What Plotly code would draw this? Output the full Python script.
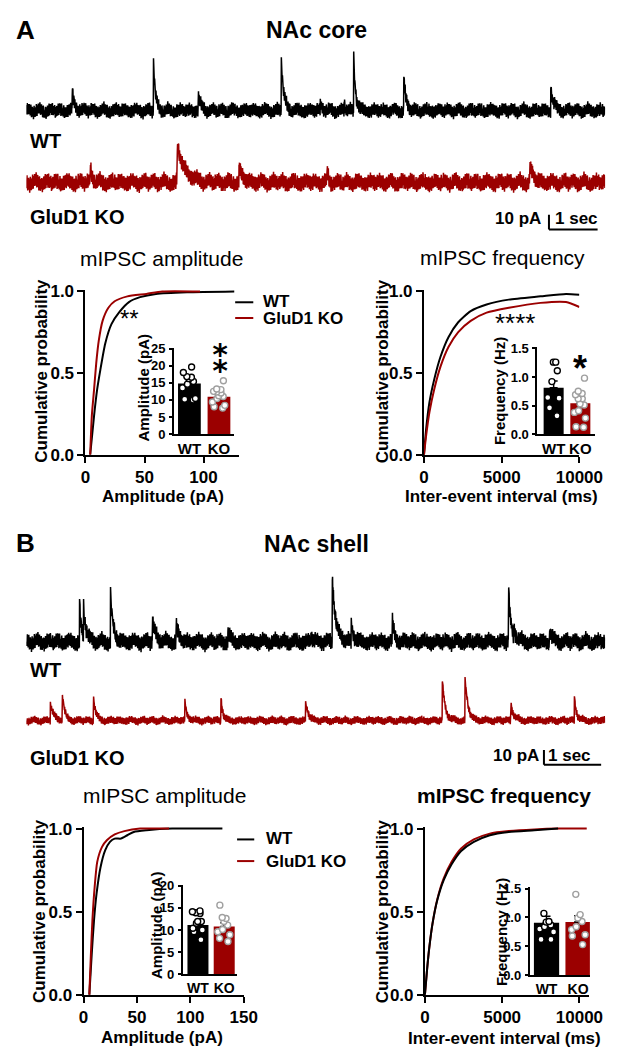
import numpy as np
import plotly.graph_objects as go

W, H = 624, 1050
FONT = "Liberation Sans, Arial, sans-serif"
BLACK = "#000000"
RED = "#9b0000"
GRAY = "#a0a0a0"

# ------------------------------------------------------------------ data
# Example current traces: event times (s), amplitudes (pA), decay constants (s)
A_WT_T = [0.94, 2.61, 3.53, 5.24, 6.04, 6.53, 6.73, 7.76, 10.78]
A_WT_AMP = [13, 37, 10, 36, 5, 4, 37, 25, 15]
A_WT_TAU = [0.05, 0.04, 0.06, 0.05, 0.05, 0.04, 0.04, 0.04, 0.06]
A_KO_T = [1.31, 3.10, 4.37, 6.18, 10.35]
A_KO_AMP = [11, 25, 11, 9, 12]
A_KO_TAU = [0.05, 0.16, 0.07, 0.03, 0.07]
A_DUR = 11.9

B_WT_T = [0.93, 1.00, 1.47, 2.20, 2.62, 3.52, 4.97, 5.35, 5.68, 6.40, 8.43, 8.52, 9.15]
B_WT_AMP = [26, 21, 37, 15, 13, 6, 4, 44, 14, 14, 36, 8, 7]
B_WT_TAU = [0.03, 0.05, 0.04, 0.06, 0.04, 0.05, 0.05, 0.06, 0.04, 0.04, 0.04, 0.05, 0.05]
B_KO_T = [0.42, 0.63, 1.17, 2.77, 3.40, 4.88, 7.27, 7.67, 8.47, 9.58]
B_KO_AMP = [11.5, 18, 17.5, 13.5, 19, 13, 29, 29.5, 12, 16]
B_KO_TAU = [0.06, 0.04, 0.04, 0.04, 0.03, 0.05, 0.05, 0.05, 0.05, 0.04]
B_DUR = 10.12

# baseline noise texture (normalised)
NOISE_1 = [0.3, -0.8, 0.6, -0.2, 0.9, -0.5, 0.1, -0.9, 0.7, -0.3, 0.5, -0.7, 0.2, 0.8,
           -0.4, -0.1, 0.6, -0.8, 0.4, -0.6, 1.0, -0.2, 0.3, -0.9, 0.5, 0.0, -0.5, 0.8,
           -0.7, 0.2, -0.3, 0.7, -1.0, 0.4, -0.4, 0.9, -0.6, 0.1, 0.6, -0.8, 0.2]
NOISE_2 = [0.5, 0.7, 0.4, 0.1, -0.3, -0.6, -0.8, -0.5, -0.2, 0.2, 0.6, 0.9, 0.6, 0.3,
           -0.1, -0.4, -0.7, -0.9, -0.6, -0.2, 0.1, 0.4, 0.8, 0.5, 0.2, -0.2, -0.5, -0.3, 0.1]

SCALE_PA = 10
SCALE_S = 1

# Cumulative distributions: NAc core amplitude (pA)
A_AMP_P = [0, 0.24, 0.40, 0.52, 0.68, 0.80, 0.875, 0.935, 0.965, 0.985, 0.995, 1.0]
A_AMP_WT = [4.0, 7.3, 9.9, 12.6, 16.7, 22.0, 28.8, 36.8, 46.2, 59.7, 86, 126]
A_AMP_KO_P = [0, 0.24, 0.40, 0.56, 0.70, 0.82, 0.90, 0.94, 0.97, 0.985, 1.0, 1.0]
A_AMP_KO = [4.0, 5.4, 7.3, 9.1, 11.3, 14.5, 19.4, 24.7, 35.5, 51.6, 65, 97]
# NAc core inter-event interval (ms)
A_IEI_X = [0, 143, 350, 656, 1063, 1575, 2190, 3006, 4030, 5460, 7500, 9140, 10000]
A_IEI_WT = [0, 0.16, 0.32, 0.46, 0.60, 0.72, 0.81, 0.88, 0.92, 0.95, 0.97, 0.985, 0.98]
A_IEI_KO = [0, 0.12, 0.26, 0.40, 0.54, 0.66, 0.75, 0.82, 0.87, 0.90, 0.93, 0.935, 0.905]
# NAc shell amplitude (pA)
B_AMP_WT_P = [0, 0.25, 0.45, 0.61, 0.765, 0.87, 0.92, 0.94, 0.94, 0.96, 0.98, 0.99, 1.0, 1.0]
B_AMP_WT = [5.4, 7.7, 9.8, 12.2, 15.8, 20.3, 24.7, 29.2, 35.1, 41, 47, 59, 83, 130]
B_AMP_KO_P = [0, 0.25, 0.45, 0.65, 0.80, 0.89, 0.93, 0.965, 0.985, 1.0, 1.0]
B_AMP_KO = [5.4, 6.9, 8.3, 10.4, 12.8, 17.3, 21.8, 29.2, 38.2, 53, 80]
# NAc shell inter-event interval (ms)
B_IEI_WT_X = [0, 142, 290, 494, 802, 1216, 1728, 2345, 3167, 4200, 5432, 7080, 8620]
B_IEI_WT = [0, 0.155, 0.29, 0.43, 0.57, 0.69, 0.785, 0.865, 0.92, 0.96, 0.98, 0.99, 1.0]
B_IEI_KO_X = [0, 142, 290, 494, 802, 1216, 1728, 2345, 3167, 4200, 5432, 7080, 8620, 10475]
B_IEI_KO = [0, 0.155, 0.29, 0.43, 0.575, 0.70, 0.80, 0.88, 0.935, 0.97, 0.985, 0.995, 1.0, 1.0]

# Inset bar graphs: group means, SEM and individual cells
GROUPS = ["WT", "KO"]
A_AMP_MEAN = [14.8, 10.9]
A_AMP_SEM = [1.1, 0.7]
A_AMP_WT_CELLS = [19.6, 18.0, 16.6, 16.2, 16.8, 15.4, 14.6, 13.5, 10.2, 10.0, 10.4]
A_AMP_KO_CELLS = [15.6, 13.0, 13.2, 12.5, 12.3, 11.0, 11.2, 10.4, 9.4, 8.4, 7.6, 8.0, 12.0]
A_FRQ_MEAN = [0.81, 0.54]
A_FRQ_SEM = [0.12, 0.07]
A_FRQ_WT_CELLS = [1.26, 1.26, 1.11, 0.92, 0.63, 0.64, 0.46, 0.32]
A_FRQ_KO_CELLS = [0.98, 0.75, 0.69, 0.71, 0.62, 0.62, 0.53, 0.51, 0.41, 0.38, 0.28, 0.12, 0.13]
B_AMP_MEAN = [11.1, 10.8]
B_AMP_SEM = [0.6, 0.8]
B_AMP_WT_CELLS = [13.7, 13.9, 14.1, 14.3, 11.9, 11.9, 11.5, 10.4, 10.0, 9.6, 7.8]
B_AMP_KO_CELLS = [15.6, 12.6, 12.8, 11.9, 11.1, 8.9, 10.1, 9.6, 8.1, 7.4]
B_FRQ_MEAN = [0.91, 0.92]
B_FRQ_SEM = [0.11, 0.11]
B_FRQ_WT_CELLS = [1.07, 0.93, 0.92, 0.87, 0.84, 0.80, 0.75, 0.62, 0.62]
B_FRQ_KO_CELLS = [1.40, 1.05, 0.99, 0.93, 0.84, 0.79, 0.70, 0.68, 0.53]


# ------------------------------------------------------------------ helpers
def X(p):
    return p / W


def Y(p):
    return 1 - p / H


def make_trace(times, amps, taus, dur, noise_amp, phase, n=2600):
    t = np.linspace(0, dur, n)
    idx = np.arange(n) + phase
    n1 = np.array(NOISE_1)[idx % len(NOISE_1)]
    n2 = np.array(NOISE_2)[(idx // 5) % len(NOISE_2)]
    y = noise_amp * (0.75 * n1 + 0.3 * n2)
    for t0, a, tau in zip(times, amps, taus):
        m = t >= t0
        y[m] += a * np.exp(-(t[m] - t0) / tau)
    return t, y


fig = go.Figure()
layout = {}
annotations = []
shapes = []


def axes(i, xl, xr, yt, yb, xrange, yrange):
    layout[f"xaxis{i}"] = dict(domain=[X(xl), X(xr)], range=xrange, anchor=f"y{i}",
                               visible=False, fixedrange=True)
    layout[f"yaxis{i}"] = dict(domain=[Y(yb), Y(yt)], range=yrange, anchor=f"x{i}",
                               visible=False, fixedrange=True)


def style_axis(ax, tickvals, ticktext, size, ticklen=6, showline=True):
    ax.update(visible=True, showline=showline, linecolor=BLACK, linewidth=2,
              ticks="outside" if ticklen else "", ticklen=ticklen, tickwidth=2,
              tickcolor=BLACK, tickvals=tickvals, ticktext=ticktext, tickangle=0,
              tickfont=dict(family=FONT, size=size, color=BLACK, weight=700),
              showgrid=False, zeroline=False)


def txt(s, x, y, size, bold=True, xa="center", ya="middle", angle=0, color=BLACK,
        family=FONT):
    annotations.append(dict(text=s, x=X(x), y=Y(y), xref="paper", yref="paper",
                            showarrow=False, xanchor=xa, yanchor=ya, textangle=angle,
                            font=dict(family=family, size=size, color=color,
                                      weight=700 if bold else 400)))


# ------------------------------------------------------------------ raw traces
# axis 1: A WT, axis 2: A KO, axis 3: B WT, axis 4: B KO
axes(1, 14, 621, 25, 115, [0, A_DUR], [-12, 48])
axes(2, 14, 621, 115, 225, [0, A_DUR], [-36.7, 36.7])
axes(3, 14, 621, 550, 665, [0, B_DUR], [-18.7, 58])
axes(4, 14, 621, 660, 770, [0, B_DUR], [-35.3, 38])

for i, (tt, aa, tau, dur, na, ph, col) in enumerate([
        (A_WT_T, A_WT_AMP, A_WT_TAU, A_DUR, 6.0, 0, BLACK),
        (A_KO_T, A_KO_AMP, A_KO_TAU, A_DUR, 7.2, 17, RED),
        (B_WT_T, B_WT_AMP, B_WT_TAU, B_DUR, 7.0, 9, BLACK),
        (B_KO_T, B_KO_AMP, B_KO_TAU, B_DUR, 3.4, 23, RED)], start=1):
    t, y = make_trace(tt, aa, tau, dur, na, ph)
    fig.add_trace(go.Scatter(x=t, y=y, mode="lines", line=dict(color=col, width=1.5),
                             xaxis=f"x{i}", yaxis=f"y{i}", showlegend=False,
                             hoverinfo="skip"))

# scale bars (in data units of the KO trace axes)
for ax, x0, y0 in [(2, 10.745, -32), (4, 9.05, -30)]:
    shapes.append(dict(type="line", xref=f"x{ax}", yref=f"y{ax}", x0=x0, x1=x0,
                       y0=y0, y1=y0 + SCALE_PA, line=dict(color=BLACK, width=2)))
    shapes.append(dict(type="line", xref=f"x{ax}", yref=f"y{ax}", x0=x0, x1=x0 + SCALE_S,
                       y0=y0, y1=y0, line=dict(color=BLACK, width=2)))

# ------------------------------------------------------------------ CDF panels
cdf_specs = [
    # axis, xl, xr, y0px, y1px, xrange, xticks
    (5, 76, 237, 447, 281, [0, 130], [0, 50, 100]),
    (7, 431, 594, 447, 281, [0, 10000], [0, 5000, 10000]),
    (9, 74, 242, 996, 827, [0, 150], [0, 50, 100, 150]),
    (11, 432, 604, 996, 827, [0, 10617], [0, 5000, 10000]),
]
for ax, xl, xr, yb, y1, xr_, xt in cdf_specs:
    top = yb - 1.01 * (yb - y1)
    axes(ax, xl, xr, top, yb, xr_, [0, 1.01])
    style_axis(layout[f"xaxis{ax}"], xt, [str(v) for v in xt], 17)
    style_axis(layout[f"yaxis{ax}"], [0, 0.5, 1.0], ["0.0", "0.5", "1.0"], 17)

cdf_lines = [
    (5, A_AMP_WT, A_AMP_P, BLACK), (5, A_AMP_KO, A_AMP_KO_P, RED),
    (7, A_IEI_X, A_IEI_WT, BLACK), (7, A_IEI_X, A_IEI_KO, RED),
    (9, B_AMP_WT, B_AMP_WT_P, BLACK), (9, B_AMP_KO, B_AMP_KO_P, RED),
    (11, B_IEI_KO_X, B_IEI_KO, RED), (11, B_IEI_WT_X, B_IEI_WT, BLACK),
]
for ax, xs, ys, col in cdf_lines:
    fig.add_trace(go.Scatter(x=xs, y=ys, mode="lines",
                             line=dict(color=col, width=2, shape="spline", smoothing=0.6),
                             xaxis=f"x{ax}", yaxis=f"y{ax}", showlegend=False,
                             hoverinfo="skip"))

# ------------------------------------------------------------------ insets
inset_specs = [
    # axis, xl, xr, ytop, ybottom, xrange, yrange, yticks, labels, mean, sem, wt, ko, width, xfont
    (6, 169, 232, 338, 426, [-0.516, 1.516], [0, 25.3], [0, 5, 10, 15, 20, 25],
     ["0", "5", "10", "15", "20", "25"], A_AMP_MEAN, A_AMP_SEM, A_AMP_WT_CELLS, A_AMP_KO_CELLS, 0.77, 15),
    (8, 550, 610, 337.8, 426, [-0.607, 1.536], [0, 1.52], [0, 0.5, 1.0, 1.5],
     ["0.0", "0.5", "1.0", "1.5"], A_FRQ_MEAN, A_FRQ_SEM, A_FRQ_WT_CELLS, A_FRQ_KO_CELLS, 0.75, 15),
    (10, 178, 235, 884.1, 975, [-0.58, 1.49], [0, 20.2], [0, 5, 10, 15, 20],
     ["0", "5", "10", "15", "20"], B_AMP_MEAN, B_AMP_SEM, B_AMP_WT_CELLS, B_AMP_KO_CELLS, 0.8, 14),
    (12, 542, 605, 886.8, 976, [-0.53, 1.375], [0, 1.52], [0, 0.5, 1.0, 1.5],
     ["0.0", "0.5", "1.0", "1.5"], B_FRQ_MEAN, B_FRQ_SEM, B_FRQ_WT_CELLS, B_FRQ_KO_CELLS, 0.8, 14),
]
for ax, xl, xr, yt, yb, xrg, yrg, ytv, ytt, mean, sem, wt, ko, bw, xf in inset_specs:
    axes(ax, xl, xr, yt, yb, xrg, yrg)
    style_axis(layout[f"xaxis{ax}"], [0, 1], GROUPS, xf, ticklen=0)
    layout[f"xaxis{ax}"]["type"] = "linear"
    style_axis(layout[f"yaxis{ax}"], ytv, ytt, 13, ticklen=3)
    layout[f"yaxis{ax}"]["ticklabelstandoff"] = 1
    fig.add_trace(go.Bar(x=[0, 1], y=mean, width=bw, marker=dict(color=[BLACK, RED],
                         line=dict(color=BLACK, width=0)),
                         error_y=dict(type="data", array=sem, arrayminus=[0, 0],
                                      symmetric=False, color=BLACK, thickness=1.5, width=4),
                         xaxis=f"x{ax}", yaxis=f"y{ax}", showlegend=False, hoverinfo="skip"))
    for x0, vals, edge in [(0, wt, BLACK), (1, ko, GRAY)]:
        fig.add_trace(go.Box(y=vals, x0=x0, boxpoints="all", jitter=0.85, pointpos=0,
                             width=bw * 0.85, fillcolor="rgba(0,0,0,0)",
                             line=dict(color="rgba(0,0,0,0)", width=0),
                             marker=dict(symbol="circle", size=6, color="white",
                                         line=dict(color=edge, width=1.4)),
                             xaxis=f"x{ax}", yaxis=f"y{ax}", showlegend=False,
                             hoverinfo="skip"))

# ------------------------------------------------------------------ text
txt("A", 1, 15, 26, xa="left")
txt("NAc core", 318, 15, 23)
txt("WT", 16, 128, 20, xa="left")
txt("GluD1 KO", 16, 205, 20, xa="left")
txt("10 pA", 556, 207, 17, xa="right")
txt("1 sec", 566, 207, 17, xa="left")

txt("mIPSC amplitude", 156, 247, 21, bold=False)
txt("mIPSC frequency", 513, 246, 21, bold=False)
txt("Cumulative probability", 30, 362, 17, angle=-90)
txt("Cumulative probability", 387, 362, 17, angle=-90)
txt("Amplitude (pA)", 157, 489, 17)
txt("Inter-event interval (ms)", 512, 489, 17)
txt("Amplitude (pA)", 137, 379, 15, angle=-90)
txt("Frequency (Hz)", 511, 382, 15, angle=-90)
txt("**", 122, 308, 24, bold=False)
txt("****", 526, 313, 26, bold=False)
# two asterisks stacked vertically (single glyph U+2051)
txt("\u2051", 218, 350, 37, bold=True, family="DejaVu Sans, Noto Sans, sans-serif")
txt("*", 595, 359, 36, bold=True)
txt("WT", 260, 291, 17, xa="left")
txt("GluD1 KO", 260, 308, 17, xa="left")

txt("B", 1, 537, 26, xa="left")
txt("NAc shell", 318, 538, 23)
txt("WT", 16, 666, 20, xa="left")
txt("GluD1 KO", 16, 755, 20, xa="left")
txt("10 pA", 554, 753, 17, xa="right")
txt("1 sec", 559, 753, 17, xa="left")

txt("mIPSC amplitude", 159, 793, 21, bold=False)
txt("mIPSC frequency", 515, 793, 21)
txt("Cumulative probability", 28, 911, 17, angle=-90)
txt("Cumulative probability", 387, 911, 17, angle=-90)
txt("Amplitude (pA)", 156, 1039, 17)
txt("Inter-event interval (ms)", 515, 1040, 17)
txt("Amplitude (pA)", 150, 926, 15, angle=-90)
txt("Frequency (Hz)", 513, 932, 15, angle=-90)
txt("WT", 263, 837, 17, xa="left")
txt("GluD1 KO", 263, 860, 17, xa="left")

# legend keys
for x0, x1, yy, col in [(233, 252, 292, BLACK), (233, 252, 308, RED),
                        (235, 253, 838, BLACK), (235, 253, 860, RED)]:
    shapes.append(dict(type="line", xref="paper", yref="paper", x0=X(x0), x1=X(x1),
                       y0=Y(yy), y1=Y(yy), line=dict(color=col, width=2)))

fig.update_layout(width=W, height=H, margin=dict(l=0, r=0, t=0, b=0),
                  paper_bgcolor="white", plot_bgcolor="rgba(0,0,0,0)",
                  showlegend=False, annotations=annotations, shapes=shapes,
                  barmode="overlay", boxmode="overlay", **layout)

fig.write_html("out.html")
